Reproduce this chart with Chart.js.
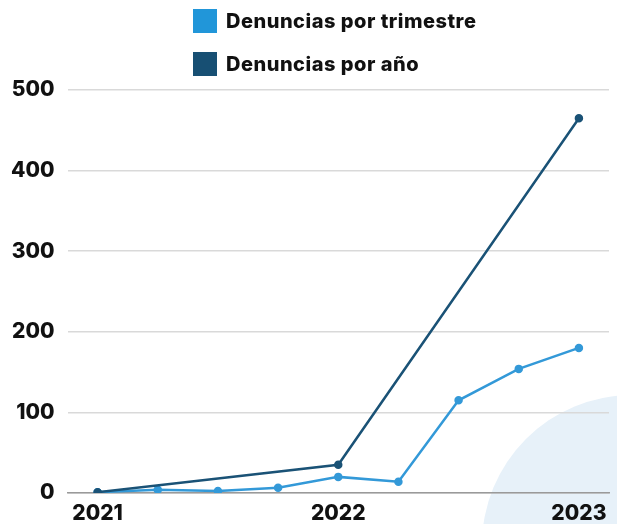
<!DOCTYPE html>
<html>
<head>
<meta charset="utf-8">
<script src="https://cdn.jsdelivr.net/npm/chart.js@4.4.1/dist/chart.umd.min.js"></script>
<style>
    html, body { margin: 0; padding: 0; background: #fff; }
    #wrap { position: relative; width: 617px; height: 524px; overflow: hidden; }
    #legend { position: absolute; left: 193px; top: 9px; font-family: Inter, sans-serif; font-weight: 800; font-size: 20px; letter-spacing: 0.5px; color: #111; }
    .item { display: flex; align-items: center; height: 24px; margin-bottom: 19px; }
    .box { width: 24px; height: 24px; margin-right: 9px; }
</style>
</head>
<body>
<div id="wrap">
    <canvas id="chart" width="617" height="524"></canvas>
    <div id="legend"></div>
</div>
<script>
// Quarterly categories (2021 Q1 .. 2023 Q1)
const quarters = ['2021', '', '', '', '2022', '', '', '', '2023'];
const seriesNames = ['Denuncias por trimestre', 'Denuncias por año'];
const quarterValues = [1, 4, 2.5, 6.5, 20, 14, 115, 154, 180];
const yearValues = [1, null, null, null, 35, null, null, null, 465];
const yTicks = [0, 100, 200, 300, 400, 500];

const lightBlue = '#3399d8';
const darkBlue = '#1a5276';
const legendColors = ['#2196d9', '#174f73'];

// Legend (two stacked rows)
const legendEl = document.getElementById('legend');
seriesNames.forEach((name, i) => {
    const row = document.createElement('div');
    row.className = 'item';
    const box = document.createElement('div');
    box.className = 'box';
    box.style.background = legendColors[i];
    const label = document.createElement('span');
    label.textContent = name;
    row.appendChild(box);
    row.appendChild(label);
    legendEl.appendChild(row);
});

// Pale decorative circle behind the plot
const bgCircle = {
    id: 'bgCircle',
    beforeDraw(chart) {
        const ctx = chart.ctx;
        ctx.save();
        ctx.fillStyle = '#e7f1f9';
        ctx.beginPath();
        ctx.arc(632, 545, 150, 0, Math.PI * 2);
        ctx.fill();
        ctx.restore();
    }
};

const tickFont = { family: 'Inter, sans-serif', weight: 800, size: 21, lineHeight: 1 };

new Chart(document.getElementById('chart'), {
    type: 'line',
    data: {
        labels: quarters,
        datasets: [
            {
                label: seriesNames[1],
                data: yearValues,
                spanGaps: true,
                borderColor: darkBlue,
                backgroundColor: darkBlue,
                borderWidth: 2.5,
                pointRadius: 3,
                pointHoverRadius: 3,
                tension: 0,
                fill: false
            },
            {
                label: seriesNames[0],
                data: quarterValues,
                borderColor: lightBlue,
                backgroundColor: lightBlue,
                borderWidth: 2.5,
                pointRadius: 3,
                pointHoverRadius: 3,
                tension: 0,
                fill: false
            }
        ]
    },
    options: {
        responsive: false,
        animation: false,
        layout: { padding: { top: 90, left: -2, right: 8, bottom: -10 } },
        plugins: {
            legend: { display: false },
            tooltip: { enabled: false }
        },
        scales: {
            x: {
                offset: true,
                grid: { display: false, drawTicks: false },
                border: { display: true, color: '#9a9a9a', width: 1.5 },
                ticks: {
                    autoSkip: false,
                    maxRotation: 0,
                    padding: 10,
                    color: '#111',
                    font: tickFont
                }
            },
            y: {
                min: 0,
                max: 500,
                afterBuildTicks: axis => { axis.ticks = yTicks.map(v => ({ value: v })); },
                grid: { color: '#d9d9d9', lineWidth: 1.5, drawTicks: false },
                border: { display: false },
                ticks: {
                    padding: 13,
                    color: '#111',
                    font: tickFont
                }
            }
        }
    },
    plugins: [bgCircle]
});
</script>
</body>
</html>
